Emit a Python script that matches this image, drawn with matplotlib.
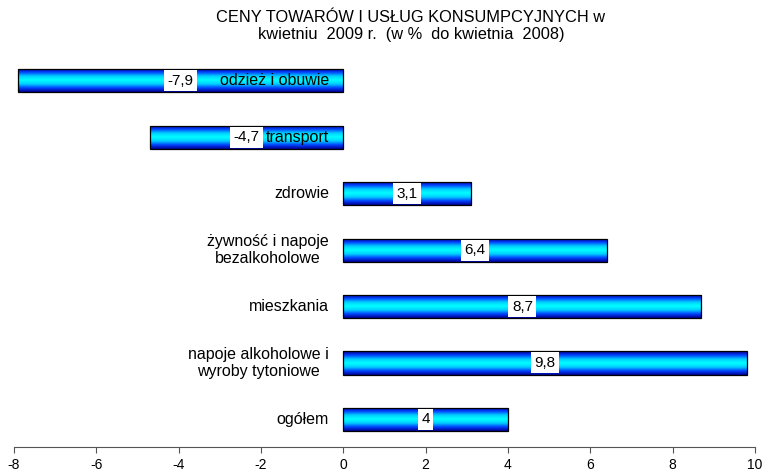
# Ceny towarów i usług konsumpcyjnych - kwiecień 2009 (w % do kwietnia 2008)

import numpy as np
import matplotlib.pyplot as plt
from matplotlib.colors import LinearSegmentedColormap

plt.rcParams['font.family'] = ['Liberation Sans', 'DejaVu Sans']

# ----------------------------
# Data (bottom to top)
# ----------------------------
categories = ["ogółem", "napoje alkoholowe i\nwyroby tytoniowe", "mieszkania",
              "żywność i napoje\nbezalkoholowe", "zdrowie", "transport",
              "odzież i obuwie"]
values = [4.0, 9.8, 8.7, 6.4, 3.1, -4.7, -7.9]
xticks = [-8, -6, -4, -2, 0, 2, 4, 6, 8, 10]


def fmt(v):
    if v == int(v):
        return str(int(v))
    return ("%.1f" % v).replace(".", ",")


fig = plt.figure(figsize=(7.64, 4.72), dpi=100)
ax = fig.add_axes([14 / 764, 1 - 447 / 472, (755 - 14) / 764, (447 - 60) / 472])

ypos = np.arange(len(categories))
bars = ax.barh(ypos, values, height=0.41, color="none",
               edgecolor="black", linewidth=0.9, zorder=3)

# vertical gradient fill for each bar
cmap = LinearSegmentedColormap.from_list(
    "bar", ["#000090", "#0040ff", "#00d0ff", "#00ffff",
            "#00d0ff", "#0040ff", "#000090"])
grad = np.linspace(0, 1, 100).reshape(-1, 1)
for b in bars:
    x0, y0 = b.get_x(), b.get_y()
    w, h = b.get_width(), b.get_height()
    im = ax.imshow(grad, cmap=cmap, aspect="auto", zorder=2,
                   extent=[x0, x0 + w, y0, y0 + h], interpolation="bicubic")
    im.set_clip_path(b)

# value labels in white boxes at bar middle
for y, v in zip(ypos, values):
    ax.text(v / 2, y, fmt(v), ha="center", va="center", fontsize=11, zorder=5,
            bbox=dict(facecolor="white", edgecolor="none", pad=2.5))

# category labels next to the zero line
for y, c in zip(ypos, categories):
    ax.text(-0.35, y, c, ha="right", va="center", multialignment="center",
            fontsize=11.5, linespacing=1.15, zorder=6)

ax.set_xlim(-8, 10)
ax.set_ylim(-0.49, 6.37)
ax.set_xticks(xticks)
ax.set_xticklabels([str(t) for t in xticks], fontsize=10)
ax.set_yticks([])
for s in ["left", "right", "top"]:
    ax.spines[s].set_visible(False)
ax.spines["bottom"].set_color("#555555")
ax.tick_params(axis="x", direction="out", length=4, color="#555555", pad=4)

fig.text(0.538, 0.978, "CENY TOWARÓW I USŁUG KONSUMPCYJNYCH w\nkwietniu  2009 r.  (w %  do kwietnia  2008)",
         ha="center", va="top", fontsize=11.8, linespacing=1.12)

fig.savefig("out.png", dpi=100)
